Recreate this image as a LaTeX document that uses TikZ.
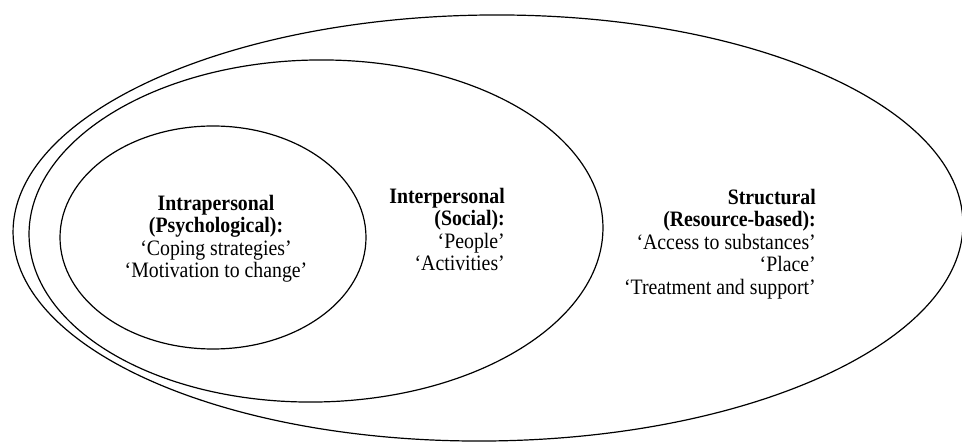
\documentclass[tikz,border=0pt]{standalone}
\usepackage{fontspec}
\setmainfont[FakeStretch=0.9]{Liberation Serif}
\begin{document}
\begin{tikzpicture}[x=1pt,y=1pt,
  ring/.style={draw=black,line width=1.2pt},
  lbl/.style={inner sep=0pt,font=\fontsize{22}{22.5}\selectfont}]
\useasboundingbox (0,0) rectangle (962,442);
\draw[ring,rotate around={0.6:(488,214)}] (488,214) ellipse [x radius=475, y radius=213];
\draw[ring,rotate around={1:(316,211)}] (316,211) ellipse [x radius=287, y radius=171];
\draw[ring] (213,204.5) ellipse [x radius=153, y radius=111.5];
\node[lbl,align=center,anchor=center] (intra) at (216,203.5)
  {\textbf{Intrapersonal}\\\textbf{(Psychological):}\\‘Coping strategies’\\‘Motivation to change’};
\node[lbl,align=right,anchor=east] (inter) at (505,212.6)
  {\textbf{Interpersonal}\\\textbf{(Social):}\\‘People’\\‘Activities’};
\node[lbl,align=right,anchor=east] (struct) at (816,198.2)
  {\textbf{Structural}\\\textbf{(Resource-based):}\\‘Access to substances’\\‘Place’\\‘Treatment and support’};
\end{tikzpicture}
\end{document}
